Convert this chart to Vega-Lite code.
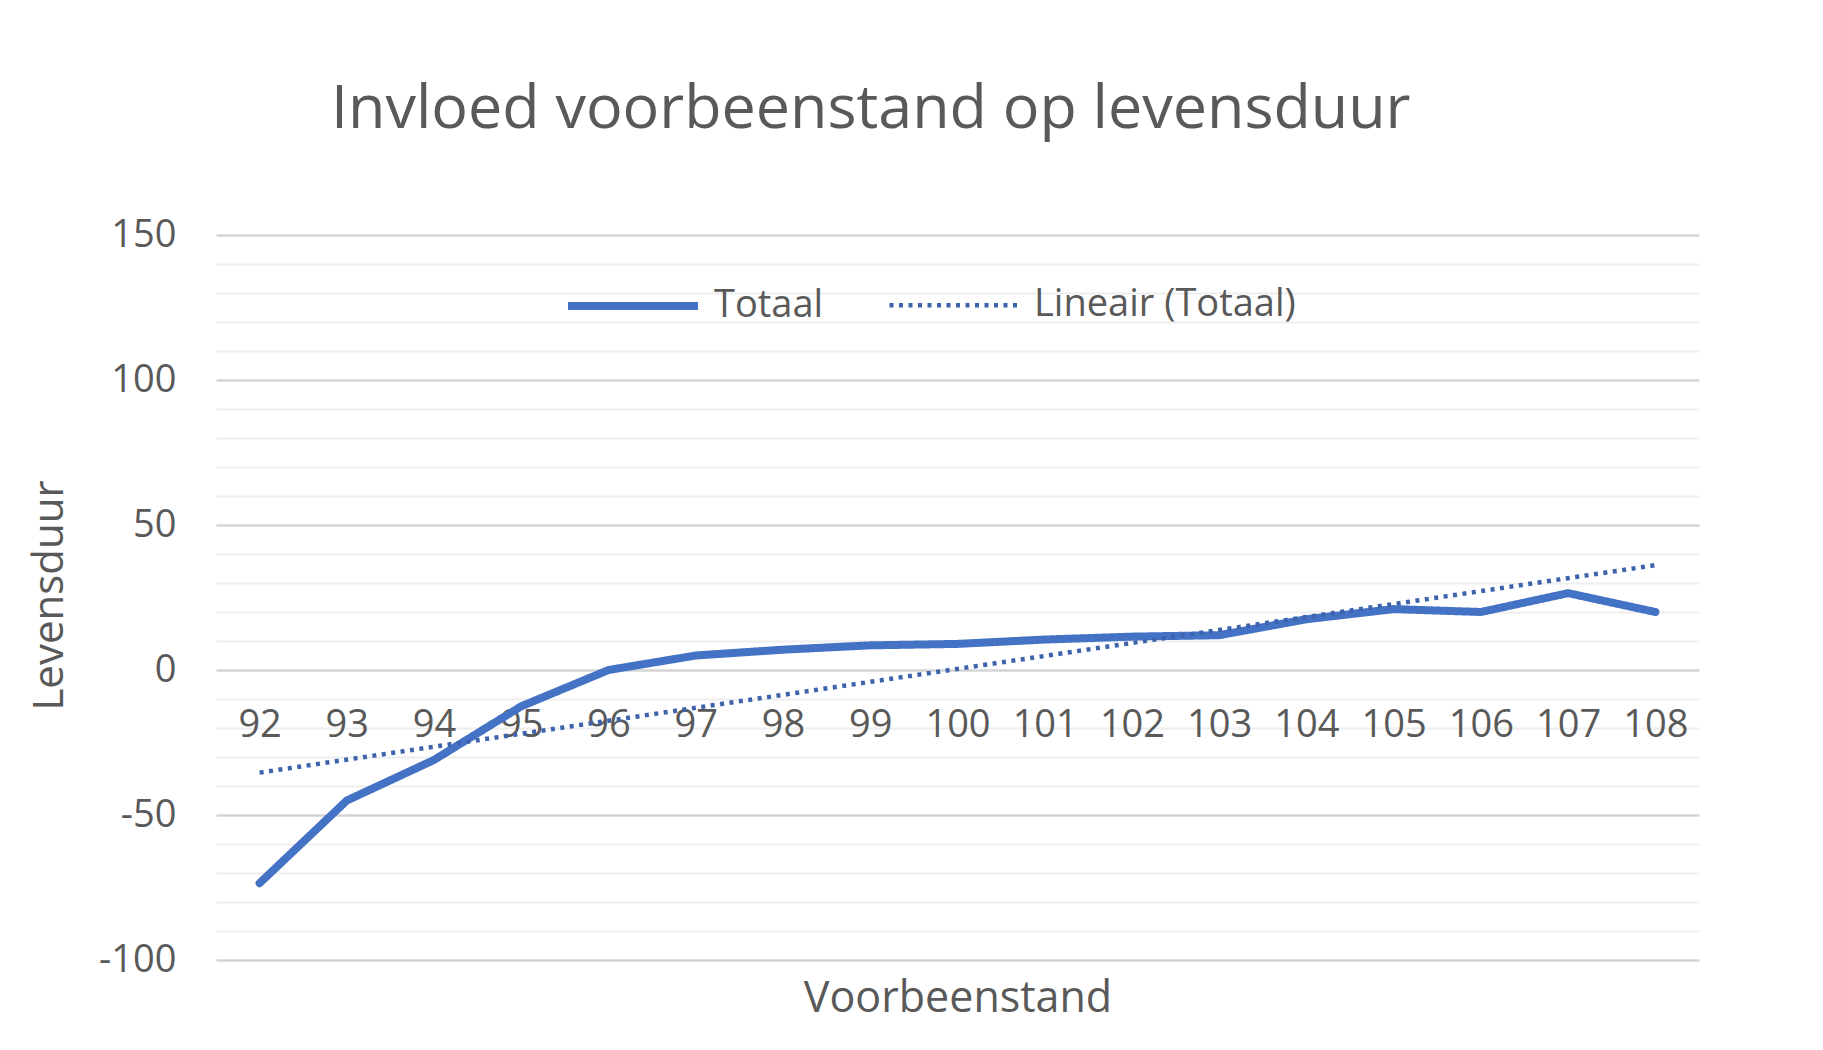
{
  "$schema": "https://vega.github.io/schema/vega-lite/v6.json",
  "width": 1483,
  "height": 725,
  "autosize": {"type": "none"},
  "padding": {"left": 216, "top": 235, "right": 124, "bottom": 90},
  "background": "white",
  "title": {
    "text": "Invloed voorbeenstand op levensduur",
    "anchor": "start",
    "frame": "group",
    "dx": 115,
    "offset": 27,
    "baseline": "alphabetic",
    "fontSize": 61,
    "font": "Open Sans",
    "fontWeight": "normal",
    "color": "#595959"
  },
  "data": {
    "values": [
      {"v": 92, "l": -73.5},
      {"v": 93, "l": -45},
      {"v": 94, "l": -31},
      {"v": 95, "l": -12.5},
      {"v": 96, "l": 0},
      {"v": 97, "l": 5},
      {"v": 98, "l": 7},
      {"v": 99, "l": 8.5},
      {"v": 100, "l": 9},
      {"v": 101, "l": 10.5},
      {"v": 102, "l": 11.5},
      {"v": 103, "l": 12},
      {"v": 104, "l": 17.5},
      {"v": 105, "l": 21},
      {"v": 106, "l": 20},
      {"v": 107, "l": 26.5},
      {"v": 108, "l": 20}
    ]
  },
  "encoding": {
    "x": {
      "field": "v",
      "type": "quantitative",
      "scale": {"domain": [91.5, 108.5], "nice": false, "zero": false},
      "axis": {
        "values": [92, 93, 94, 95, 96, 97, 98, 99, 100, 101, 102, 103, 104, 105, 106, 107, 108],
        "offset": -290,
        "domain": false,
        "ticks": false,
        "tickSize": 0,
        "grid": false,
        "labelPadding": 36,
        "labelFontSize": 38,
        "labelFont": "Open Sans",
        "labelColor": "#595959",
        "labelFlush": false,
        "labelOverlap": false,
        "title": "Voorbeenstand",
        "titleFontSize": 43,
        "titleFont": "Open Sans",
        "titleFontWeight": "normal",
        "titleColor": "#595959",
        "titleY": 328,
        "titleBaseline": "middle"
      }
    }
  },
  "layer": [
    {
      "mark": {"type": "line", "strokeCap": "round", "strokeJoin": "round"},
      "encoding": {
        "y": {
          "field": "l",
          "type": "quantitative",
          "scale": {"domain": [-100, 150], "nice": false},
          "axis": {
            "orient": "left",
            "values": [-100, -50, 0, 50, 100, 150],
            "labelExpr": "'' + datum.value",
            "domain": false,
            "ticks": false,
            "tickSize": 0,
            "grid": true,
            "gridColor": "#d4d4d4",
            "gridWidth": 2.5,
            "labelPadding": 40,
            "labelFontSize": 38,
            "labelFont": "Open Sans",
            "labelColor": "#595959",
            "title": "Levensduur",
            "titleFontSize": 42,
            "titleFont": "Open Sans",
            "titleFontWeight": "normal",
            "titleColor": "#595959",
            "titleAngle": 270,
            "titleX": -167,
            "titleY": 360,
            "titleAlign": "center",
            "titleBaseline": "middle"
          }
        },
        "color": {"datum": "Totaal", "type": "nominal", "scale": {"domain": ["Totaal", "Lineair (Totaal)"], "range": ["#4472C4", "#3d63ad"]}},
        "strokeDash": {"datum": "Totaal", "type": "nominal", "scale": {"domain": ["Totaal", "Lineair (Totaal)"], "range": [[1, 0], [4, 5.5]]}},
        "strokeWidth": {"datum": "Totaal", "type": "nominal", "scale": {"domain": ["Totaal", "Lineair (Totaal)"], "range": [8, 4.5]}}
      }
    },
    {
      "transform": [{"regression": "l", "on": "v", "extent": [92, 108]}],
      "mark": {"type": "line", "strokeCap": "butt"},
      "encoding": {
        "y": {
          "field": "l",
          "type": "quantitative",
          "scale": {"domain": [-100, 150], "nice": false},
          "axis": {
            "orient": "left",
            "values": [-90, -80, -70, -60, -40, -30, -20, -10, 10, 20, 30, 40, 60, 70, 80, 90, 110, 120, 130, 140],
            "domain": false,
            "ticks": false,
            "labels": false,
            "grid": true,
            "gridColor": "#eeeeee",
            "gridWidth": 2,
            "title": null
          }
        },
        "color": {"datum": "Lineair (Totaal)", "type": "nominal"},
        "strokeDash": {"datum": "Lineair (Totaal)", "type": "nominal"},
        "strokeWidth": {"datum": "Lineair (Totaal)", "type": "nominal"}
      }
    }
  ],
  "resolve": {"axis": {"y": "independent"}},
  "config": {
    "view": {"stroke": null},
    "legend": {
      "orient": "none",
      "legendX": 348,
      "legendY": 2,
      "direction": "horizontal",
      "title": null,
      "symbolType": "stroke",
      "symbolSize": 16900,
      "labelFontSize": 38,
      "labelFont": "Open Sans",
      "labelColor": "#595959",
      "labelLimit": 500,
      "labelOffset": 12,
      "columnPadding": 56,
      "padding": 0
    }
  }
}
